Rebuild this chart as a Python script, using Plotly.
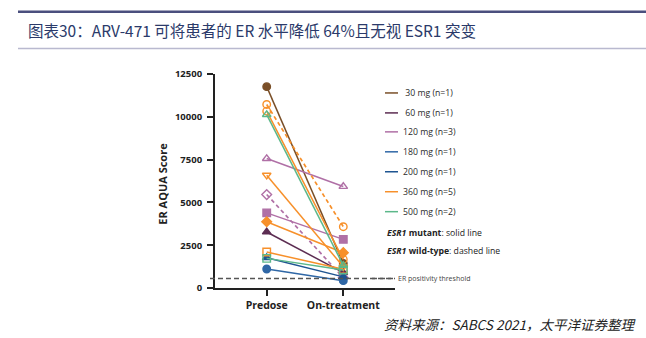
import plotly.graph_objects as go

# ---------------- data ----------------
timepoints = ["Predose", "On-treatment"]
dose_labels = [" 30 mg (n=1)", " 60 mg (n=1)", "120 mg (n=3)", "180 mg (n=1)",
               "200 mg (n=1)", "360 mg (n=5)", "500 mg (n=2)"]
dose_colors = ["#7a4f28", "#5c2d52", "#b070a6", "#2f67a6", "#1f5592", "#f7902a", "#5cb88a"]

# each patient: dose index, predose, on-treatment, marker symbol, dashed (wild-type)
patient_dose = [0, 1, 2, 2, 2, 3, 4, 5, 5, 5, 5, 5, 6, 6]
patient_pre = [11760, 3270, 7560, 4390, 5460, 1110, 1770, 10720, 10330, 6590, 3870, 2100, 10130, 1730]
patient_on = [1440, 900, 5930, 2840, 600, 430, 650, 3580, 1670, 1240, 2060, 1090, 1320, 1050]
patient_symbol = ["circle", "triangle-up", "triangle-up-open", "square", "diamond-open",
                  "circle", "triangle-up", "circle-open", "circle-open", "triangle-down-open",
                  "diamond", "square-open", "triangle-up-open", "square-open"]
patient_dashed = [False, False, False, False, True, False, False, True, False, False,
                  False, False, False, False]
threshold = 560
y_ticks = [0, 2500, 5000, 7500, 10000, 12500]

# ---------------- figure ----------------
W, H = 646, 338
L, R, T, B = 215, 395, 74, 288.5

fig = go.Figure()
for d, pre, on, sym, dash in zip(patient_dose, patient_pre, patient_on, patient_symbol, patient_dashed):
    c = dose_colors[d]
    fig.add_trace(go.Scatter(
        x=[0, 1], y=[pre, on], mode="lines+markers",
        line=dict(color=c, width=1.7 if dash else 1.5, dash="4px,3px" if dash else "solid"),
        marker=dict(symbol=sym, size=7.5, color=c, line=dict(color=c, width=1.4)),
        showlegend=False, hoverinfo="skip"))


def px(x):
    return (x - L) / (R - L)


def py(y):
    return (B - y) / (B - T)


annotations = []
shapes = []
# threshold line
shapes.append(dict(type="line", xref="paper", yref="y", x0=px(210), x1=1.0, y0=threshold, y1=threshold,
                   line=dict(color="#555555", width=1.5, dash="5px,3px")))
# legend
legend_y = [93, 113, 132, 152, 172, 192, 212]
for lab, col, yy in zip(dose_labels, dose_colors, legend_y):
    shapes.append(dict(type="line", xref="paper", yref="paper", x0=px(385), x1=px(398),
                       y0=py(yy), y1=py(yy), line=dict(color=col, width=1.5)))
    annotations.append(dict(x=px(401), y=py(yy), xref="paper", yref="paper", text=lab,
                            showarrow=False, xanchor="left", yanchor="middle",
                            font=dict(family="Open Sans", size=8.7, color="#2a2a2a")))
annotations.append(dict(x=px(385), y=py(233), xref="paper", yref="paper",
                        text="<b><i>ESR1</i> mutant</b>: solid line", showarrow=False,
                        xanchor="left", yanchor="middle",
                        font=dict(family="Open Sans", size=8.7, color="#222222")))
annotations.append(dict(x=px(385), y=py(251), xref="paper", yref="paper",
                        text="<b><i>ESR1</i> wild-type</b>: dashed line", showarrow=False,
                        xanchor="left", yanchor="middle",
                        font=dict(family="Open Sans", size=8.7, color="#222222")))
shapes.append(dict(type="line", xref="paper", yref="paper", x0=px(372), x1=px(393),
                   y0=py(279), y1=py(279), line=dict(color="#555555", width=1.5, dash="5px,3px")))
annotations.append(dict(x=px(396), y=py(279), xref="paper", yref="paper",
                        text="ER positivity threshold", showarrow=False,
                        xanchor="left", yanchor="middle",
                        font=dict(family="Open Sans", size=7, color="#444444")))

# header lines and title
shapes.append(dict(type="line", xref="paper", yref="paper", x0=px(18), x1=px(646),
                   y0=py(11.5), y1=py(11.5), line=dict(color="#4a4f7e", width=2.5)))
shapes.append(dict(type="line", xref="paper", yref="paper", x0=px(18), x1=px(646),
                   y0=py(48.5), y1=py(48.5), line=dict(color="#b9b9cf", width=1.5)))
annotations.append(dict(x=px(26), y=py(30), xref="paper", yref="paper",
                        text="图表30：ARV-471 可将患者的 ER 水平降低 64%且无视 ESR1 突变",
                        showarrow=False, xanchor="left", yanchor="middle",
                        font=dict(family="Noto Sans CJK SC", size=15.5, color="#2b3a6a")))
annotations.append(dict(x=px(638), y=py(325), xref="paper", yref="paper",
                        text="<i>资料来源：SABCS 2021，太平洋证券整理</i>",
                        showarrow=False, xanchor="right", yanchor="middle",
                        font=dict(family="Noto Sans CJK SC", size=13.5, color="#222222")))
# y axis title
annotations.append(dict(x=px(163), y=py(184), xref="paper", yref="paper",
                        text="<b>ER AQUA Score</b>", textangle=-90, showarrow=False,
                        xanchor="center", yanchor="middle",
                        font=dict(family="Open Sans", size=11, color="#222222")))

fig.update_layout(
    width=W, height=H, margin=dict(l=L, r=W - R, t=T, b=H - B),
    paper_bgcolor="white", plot_bgcolor="white",
    shapes=shapes, annotations=annotations, showlegend=False,
    xaxis=dict(range=[-0.675, 1.675], tickvals=[0, 1], ticktext=[f"<b>{t}</b>" for t in timepoints],
               showgrid=False, zeroline=False, showline=True, linecolor="#222222", linewidth=2,
               ticks="outside", ticklen=6, tickwidth=1.5, tickcolor="#222222",
               tickfont=dict(family="Open Sans", size=10.5, color="#222222")),
    yaxis=dict(range=[0, 12500], tickvals=y_ticks, ticktext=[f"<b>{v}</b>" for v in y_ticks],
               showgrid=False, zeroline=False, showline=True, linecolor="#222222", linewidth=2,
               ticks="outside", ticklen=6, tickwidth=1.5, tickcolor="#222222",
               ticklabelstandoff=3,
               tickfont=dict(family="Open Sans", size=9.5, color="#222222")),
)

fig.write_html("out.html")
